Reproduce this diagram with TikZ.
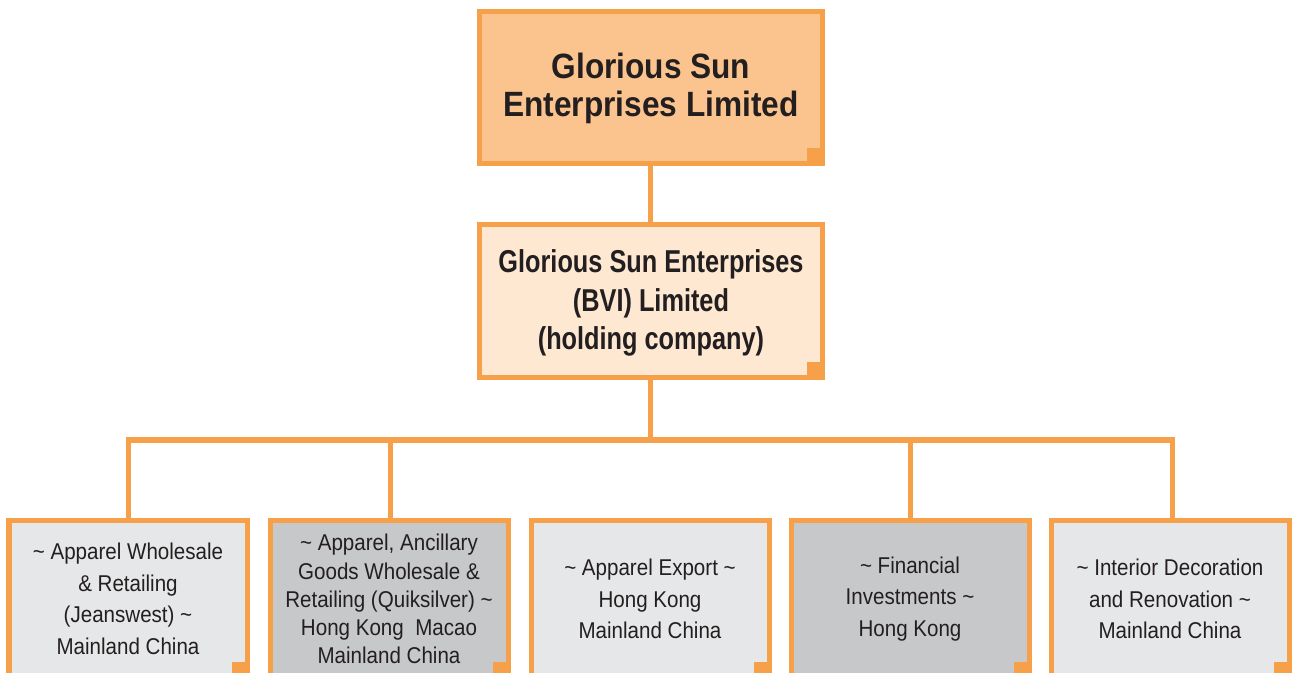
\documentclass[tikz,border=0pt]{standalone}
\usepackage{fontspec}
\setmainfont{Liberation Sans}
\newfontfamily\topfont[FakeStretch=0.9]{Liberation Sans}
\newfontfamily\headfont[FakeStretch=0.8]{Liberation Sans}
\newfontfamily\unitfont[FakeStretch=0.9]{Liberation Sans}
\usepackage{xcolor}
\definecolor{gsorange}{RGB}{247,160,74}
\definecolor{gstop}{RGB}{251,196,142}
\definecolor{gsmid}{RGB}{254,232,210}
\definecolor{gslight}{RGB}{230,231,232}
\definecolor{gsdark}{RGB}{199,200,202}
\definecolor{gstext}{RGB}{35,31,32}
\usepackage{tikz}
\newcommand{\swung}{\textasciitilde}
\newcommand{\widthhead}{6.86cm}
\newcommand{\widthunit}{4.76cm}
\tikzset{
    common/.style={draw=gsorange, line width=0.1cm, rectangle, align=center, text=gstext,
        corner},
    corner/.style={
        path picture={
            \fill[gsorange] (path picture bounding box.south east) rectangle ++(-0.31,0.31);
        }
    },
    head/.style={common, minimum width=\widthhead, minimum height=3.05cm,
        font=\headfont\bfseries\fontsize{18}{22}\selectfont},
    unit/.style={common, minimum width=\widthunit, minimum height=3.14cm,
        font=\unitfont\fontsize{13}{18}\selectfont},
    link/.style={gsorange, line width=0.1cm}
}

\begin{document}
\begin{tikzpicture}
      \clip (0,0) rectangle (25.86,-13.46);
      \coordinate (bus) at (13,-8.8);

      \draw[link] (13,-1.75) -- (13,-6.02);
      \draw[link] (13,-6.02) -- (bus);
      \foreach \x in {2.56,7.8,18.2,23.44}
          \draw[link] (bus) -| (\x,-11.98);

      \node[head, fill=gstop, font=\topfont\bfseries\fontsize{20}{22}\selectfont]
          (gse) at (13.02,-1.75) {\strut Glorious Sun\\Enterprises Limited};
      \node[head, fill=gsmid] (bvi) at (13.02,-6.02)
          {\strut Glorious Sun Enterprises\\(BVI) Limited\\(holding company)};

      \node[unit, fill=gslight] (wholesale) at (2.56,-11.98)
          {\swung\ Apparel Wholesale\\\& Retailing\\(Jeanswest) \swung\\Mainland China};
      \node[unit, fill=gsdark, font=\unitfont\fontsize{13}{16}\selectfont] (quiksilver) at (7.78,-11.98)
          {\swung\ Apparel, Ancillary\\Goods Wholesale \&\\Retailing (Quiksilver) \swung\\Hong Kong\ \ Macao\\Mainland China};
      \node[unit, fill=gslight] (export) at (13,-11.98)
          {\swung\ Apparel Export \swung\\Hong Kong\\Mainland China};
      \node[unit, fill=gsdark] (finance) at (18.2,-11.98)
          {\swung\ Financial\\Investments \swung\\Hong Kong};
      \node[unit, fill=gslight] (interior) at (23.4,-11.98)
          {\swung\ Interior Decoration\\and Renovation \swung\\Mainland China};
  \end{tikzpicture}
\end{document}
